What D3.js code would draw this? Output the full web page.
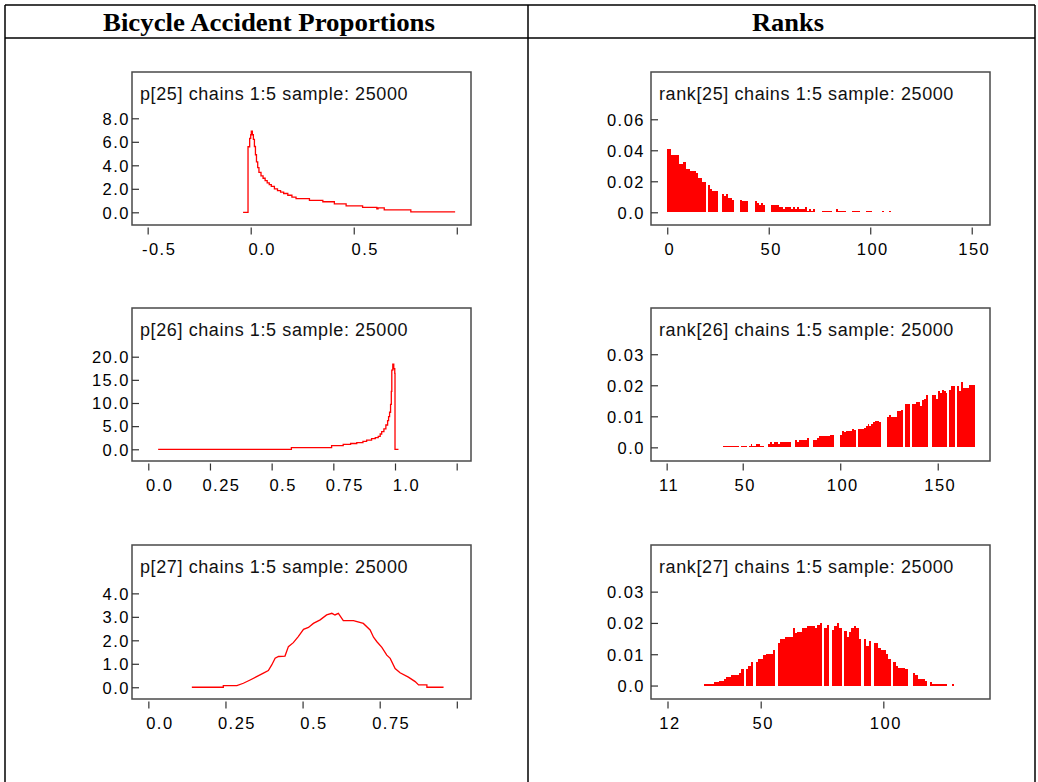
<!DOCTYPE html>
<html>
<head>
<meta charset="utf-8">
<script src="https://cdn.jsdelivr.net/npm/d3@7"></script>
<style>
  body { margin: 0; background: #fff; }
  svg { display: block; }
</style>
</head>
<body>
<div id="chart-container"></div>
<script>
/**************************************************
 * Data
 **************************************************/

const headers = ["Bicycle Accident Proportions", "Ranks"];

// density traces: x = proportion, y = density
const p25X = [-0.037, -0.013, -0.005, 0.0, 0.003, 0.008, 0.013, 0.018, 0.023, 0.028, 0.034, 0.04, 0.05, 0.06, 0.07,
  0.08, 0.09, 0.1, 0.115, 0.13, 0.145, 0.16, 0.18, 0.2, 0.22, 0.285, 0.35, 0.406, 0.463, 0.543, 0.612, 0.618, 0.648, 0.777, 0.992];
const p25Y = [0, 5.58, 6.3, 6.6, 6.9, 6.6, 6.2, 5.6, 4.9, 4.3, 3.8, 3.4, 3.1, 2.9, 2.7,
  2.5, 2.35, 2.2, 2.0, 1.85, 1.72, 1.6, 1.45, 1.3, 1.16, 1.02, 0.9, 0.71, 0.54, 0.42, 0.3, 0.38, 0.2, 0.03, 0.03];

const p26X = [0.04, 0.58, 0.743, 0.79, 0.82, 0.845, 0.87, 0.885, 0.905, 0.92, 0.932, 0.94, 0.946, 0.955, 0.963,
  0.97, 0.974, 0.978, 0.982, 0.985, 0.987, 0.991, 0.995, 0.999, 1.0, 1.014];
const p26Y = [0, 0.35, 0.78, 1.08, 1.25, 1.44, 1.7, 2.0, 2.3, 2.5, 2.8, 3.3, 3.8, 4.4, 5.25,
  6.2, 7.04, 8.0, 9.7, 12.5, 17.1, 18.4, 17.4, 16.4, 0, 0];

const p27X = [0.141, 0.243, 0.243, 0.287, 0.308, 0.33, 0.351, 0.373, 0.389, 0.4, 0.411, 0.422, 0.443, 0.454, 0.47,
  0.486, 0.503, 0.519, 0.535, 0.557, 0.578, 0.595, 0.605, 0.616, 0.632, 0.665, 0.697, 0.719, 0.73, 0.741,
  0.757, 0.773, 0.784, 0.8, 0.816, 0.843, 0.865, 0.876, 0.903, 0.903, 0.957];
const p27Y = [0, 0, 0.07, 0.07, 0.17, 0.31, 0.45, 0.6, 0.71, 0.95, 1.24, 1.31, 1.33, 1.73, 1.9,
  2.16, 2.47, 2.55, 2.72, 2.87, 3.08, 3.15, 3.08, 3.15, 2.84, 2.84, 2.72, 2.44, 2.13, 1.94,
  1.7, 1.37, 1.23, 0.8, 0.62, 0.43, 0.24, 0.1, 0.1, 0, 0];

// rank histograms: one value per rank, starting at the given rank
const rank25Start = 0;
const rank25Values = [
  0.041, 0.041, 0.0372, 0.0372, 0.0372, 0.0372, 0.0314, 0.0314, 0.0327, 0.0282,
  0.0282, 0.0269, 0.0269, 0.0269, 0.0256, 0.0224, 0.0224, 0.0198, 0.0198, 0,
  0.0178, 0.0153, 0.014, 0.014, 0.014, 0, 0, 0.012, 0.0108, 0.012,
  0.0095, 0.0095, 0.0082, 0, 0, 0, 0.0082, 0.0075, 0.0075, 0.0075,
  0, 0, 0, 0.0075, 0.0062, 0.005, 0.0062, 0.005, 0, 0,
  0, 0.005, 0.005, 0.005, 0.005, 0.0037, 0.0037, 0.0024, 0.0037, 0.0037,
  0.0037, 0.0024, 0.0037, 0.0024, 0.0037, 0.0024, 0.0024, 0.0024, 0.0037, 0.001,
  0.0024, 0.001, 0.0024, 0, 0, 0, 0.001, 0.001, 0.001, 0.001,
  0.001, 0, 0, 0.0024, 0.001, 0.001, 0.001, 0.001, 0, 0,
  0, 0.001, 0.001, 0.001, 0.001, 0, 0, 0, 0.001, 0.001,
  0.001, 0, 0, 0, 0, 0, 0.001, 0, 0, 0.001
];

const rank26Start = 40;
const rank26Values = [
  0.0005, 0.0005, 0.0005, 0.0005, 0.0005, 0.0005, 0.0005, 0.0005, 0, 0.0005,       // 40-49
  0.0005, 0.0005, 0, 0.0005, 0.0012, 0.0005, 0.0005, 0.0012, 0.0012, 0.0005,       // 50-59
  0.0005, 0, 0, 0.0012, 0.0018, 0.0012, 0.0018, 0.0018, 0.0012, 0.0018,           // 60-69
  0.0018, 0.0018, 0.0018, 0.0018, 0.0018, 0, 0, 0.0025, 0.0018, 0.0025,            // 70-79
  0.0025, 0.0025, 0.0025, 0.0031, 0, 0, 0.0025, 0.0025, 0.0031, 0.0038,            // 80-89
  0.0038, 0.0038, 0.0038, 0.0038, 0.0038, 0.0041, 0.0041, 0, 0, 0,                 // 90-99
  0.0041, 0.0054, 0.0048, 0.0054, 0.0054, 0.0054, 0.006, 0.0057, 0, 0.006,         // 100-109
  0.006, 0.006, 0.0063, 0.007, 0.0076, 0.007, 0.0076, 0.0083, 0.0086, 0.0086,      // 110-119
  0.0083, 0, 0, 0, 0.0099, 0.0105, 0.0099, 0.0099, 0.0099, 0.0118,                 // 120-129
  0.0118, 0.0121, 0, 0.0141, 0.0141, 0.0141, 0, 0.0141, 0.0141, 0.0147,            // 130-139
  0.0147, 0.0134, 0.0154, 0.0157, 0.017, 0, 0, 0.017, 0.017, 0.0157,               // 140-149
  0.018, 0.0176, 0.0186, 0.018, 0.0176, 0, 0.0186, 0.0199, 0.0199, 0,              // 150-159
  0.0199, 0.018, 0.0209, 0.0192, 0.0192, 0.0192, 0.0202, 0.0202, 0.0202            // 160-168
];

const rank27Start = 27;
const rank27Values = [
  0.0005, 0.0005, 0.0005, 0.0005, 0.0012, 0.0012, 0.0015, 0.0015, 0.0021, 0.0028, // 27-36
  0.0028, 0.0034, 0.0034, 0.0034, 0.004, 0.0053, 0, 0.0053, 0.0063, 0.0076,        // 37-46
  0, 0.0076, 0.0085, 0.0085, 0.0098, 0.0101, 0.0101, 0.0101, 0.0114, 0,            // 47-56
  0.0136, 0.0149, 0.0149, 0.0155, 0.0155, 0.0155, 0.0184, 0.0168, 0.0171, 0.0171,  // 57-66
  0.0184, 0.0184, 0.019, 0.019, 0.019, 0.0184, 0.0194, 0.02, 0, 0.0184,            // 67-76
  0.0194, 0, 0.0178, 0.019, 0.02, 0.0184, 0, 0.0175, 0.0155, 0.0171,               // 77-86
  0.0184, 0.019, 0.0184, 0.0149, 0, 0.0149, 0.0127, 0.0143, 0, 0.0136,             // 87-96
  0.0136, 0.012, 0.0114, 0.0114, 0.0101, 0.0085, 0, 0.0076, 0.0063, 0.0056,        // 97-106
  0.0056, 0.0056, 0.0053, 0, 0, 0.004, 0.0034, 0.0021, 0.0021, 0.0021,             // 107-116
  0.0015, 0, 0.0012, 0.0005, 0.0005, 0.0005, 0.0005, 0.0005, 0.0005, 0,            // 117-126
  0, 0.0005                                                                        // 127-128
];

// axis ticks and their labels
const p25XTicks = [-0.5, 0, 0.5, 1.0];
const p25XLabels = ["-0.5", "0.0", "0.5", ""];
const p25YTicks = [0, 2, 4, 6, 8];
const p25YLabels = ["0.0", "2.0", "4.0", "6.0", "8.0"];

const p26XTicks = [0, 0.25, 0.5, 0.75, 1.0, 1.25];
const p26XLabels = ["0.0", "0.25", "0.5", "0.75", "1.0", ""];
const p26YTicks = [0, 5, 10, 15, 20];
const p26YLabels = ["0.0", "5.0", "10.0", "15.0", "20.0"];

const p27XTicks = [0, 0.25, 0.5, 0.75, 1.0];
const p27XLabels = ["0.0", "0.25", "0.5", "0.75", ""];
const p27YTicks = [0, 1, 2, 3, 4];
const p27YLabels = ["0.0", "1.0", "2.0", "3.0", "4.0"];

const rank25XTicks = [0, 50, 100, 150];
const rank25XLabels = ["0", "50", "100", "150"];
const rank25YTicks = [0, 0.02, 0.04, 0.06];
const rank25YLabels = ["0.0", "0.02", "0.04", "0.06"];

const rank26XTicks = [11, 50, 100, 150];
const rank26XLabels = ["11", "50", "100", "150"];
const rank26YTicks = [0, 0.01, 0.02, 0.03];
const rank26YLabels = ["0.0", "0.01", "0.02", "0.03"];

const rank27XTicks = [12, 50, 100];
const rank27XLabels = ["12", "50", "100"];
const rank27YTicks = [0, 0.01, 0.02, 0.03];
const rank27YLabels = ["0.0", "0.01", "0.02", "0.03"];

/**************************************************
 * Layout
 **************************************************/

const W = 1038, H = 782;
const colX = [[132, 471], [651, 990]];
const rowY = [[72, 225], [308, 461], [545, 699]];

const panels = [
  { col: 0, row: 0, type: "line", title: "p[25] chains 1:5 sample: 25000",
    xs: p25X, ys: p25Y, curve: d3.curveStepAfter, xDomain: [-0.576, 1.069], yDomain: [-1.08, 11.94],
    xTicks: p25XTicks, xLabels: p25XLabels, yTicks: p25YTicks, yLabels: p25YLabels },
  { col: 0, row: 1, type: "line", title: "p[26] chains 1:5 sample: 25000",
    xs: p26X, ys: p26Y, curve: d3.curveStepAfter, xDomain: [-0.066, 1.308], yDomain: [-2.53, 30.52],
    xTicks: p26XTicks, xLabels: p26XLabels, yTicks: p26YTicks, yLabels: p26YLabels },
  { col: 0, row: 2, type: "line", title: "p[27] chains 1:5 sample: 25000",
    xs: p27X, ys: p27Y, curve: d3.curveLinear, xDomain: [-0.053, 1.046], yDomain: [-0.5, 6.06],
    xTicks: p27XTicks, xLabels: p27XLabels, yTicks: p27YTicks, yLabels: p27YLabels },
  { col: 1, row: 0, type: "bars", title: "rank[25] chains 1:5 sample: 25000",
    start: rank25Start, values: rank25Values, xDomain: [-8.0, 159.0], yDomain: [-0.0082, 0.0905],
    xTicks: rank25XTicks, xLabels: rank25XLabels, yTicks: rank25YTicks, yLabels: rank25YLabels },
  { col: 1, row: 1, type: "bars", title: "rank[26] chains 1:5 sample: 25000",
    start: rank26Start, values: rank26Values, xDomain: [2.97, 176.8], yDomain: [-0.0044, 0.0449],
    xTicks: rank26XTicks, xLabels: rank26XLabels, yTicks: rank26YTicks, yLabels: rank26YLabels },
  { col: 1, row: 2, type: "bars", title: "rank[27] chains 1:5 sample: 25000",
    start: rank27Start, values: rank27Values, xDomain: [5.27, 143.5], yDomain: [-0.0043, 0.0449],
    xTicks: rank27XTicks, xLabels: rank27XLabels, yTicks: rank27YTicks, yLabels: rank27YLabels }
];

/**************************************************
 * Rendering
 **************************************************/

const svg = d3.select("#chart-container")
  .append("svg")
  .attr("width", W)
  .attr("height", H);

svg.append("rect").attr("width", W).attr("height", H).attr("fill", "#fff");

// table grid
const grid = svg.append("g").attr("stroke", "#000").attr("stroke-width", 1.5).attr("fill", "none");
grid.append("line").attr("x1", 5).attr("x2", 1035).attr("y1", 5).attr("y2", 5);
grid.append("line").attr("x1", 5).attr("x2", 1035).attr("y1", 38).attr("y2", 38);
grid.append("line").attr("x1", 5).attr("x2", 5).attr("y1", 5).attr("y2", H);
grid.append("line").attr("x1", 528).attr("x2", 528).attr("y1", 5).attr("y2", H);
grid.append("line").attr("x1", 1035).attr("x2", 1035).attr("y1", 5).attr("y2", H);

// column headers
const headerSpan = [[103, 332], [752, 72]];
headers.forEach((h, i) => {
  svg.append("text")
    .attr("x", headerSpan[i][0])
    .attr("y", 31)
    .attr("font-family", "'Liberation Serif', 'Times New Roman', serif")
    .attr("font-weight", "bold")
    .attr("font-size", "25px")
    .attr("textLength", headerSpan[i][1])
    .attr("lengthAdjust", "spacingAndGlyphs")
    .text(h);
});

const sansFont = "'Liberation Sans', Arial, sans-serif";

panels.forEach(p => {
  const [x0, x1] = colX[p.col];
  const [y0, y1] = rowY[p.row];
  const g = svg.append("g");

  const x = d3.scaleLinear().domain(p.xDomain).range([x0, x1]);
  const y = d3.scaleLinear().domain(p.yDomain).range([y1, y0]);

  if (p.type === "line") {
    const pts = p.xs.map((v, i) => [v, p.ys[i]]);
    g.append("path")
      .datum(pts)
      .attr("fill", "none")
      .attr("stroke", "#ff0000")
      .attr("stroke-width", 1.3)
      .attr("d", d3.line().x(d => x(d[0])).y(d => y(d[1])).curve(p.curve));
  } else {
    g.selectAll("rect.bar")
      .data(p.values.map((v, i) => ({ r: p.start + i, v: v })).filter(d => d.v > 0))
      .enter()
      .append("rect")
      .attr("class", "bar")
      .attr("x", d => x(d.r))
      .attr("width", d => x(d.r + 1) - x(d.r))
      .attr("y", d => y(d.v))
      .attr("height", d => y(0) - y(d.v))
      .attr("fill", "#ff0000")
      .attr("shape-rendering", "crispEdges");
  }

  // frame
  g.append("rect")
    .attr("x", x0).attr("y", y0)
    .attr("width", x1 - x0).attr("height", y1 - y0)
    .attr("fill", "none")
    .attr("stroke", "#4a4a4a")
    .attr("stroke-width", 1.5);

  // title
  g.append("text")
    .attr("x", x0 + 8)
    .attr("y", y0 + 27.5)
    .attr("font-family", sansFont)
    .attr("font-size", "18px")
    .attr("letter-spacing", "0.6px")
    .attr("fill", "#111")
    .text(p.title);

  // y axis: ticks drawn inward from the frame
  const yAxis = d3.axisRight(y)
    .tickValues(p.yTicks)
    .tickSize(7)
    .tickFormat((d, i) => p.yLabels[i]);
  const ya = g.append("g")
    .attr("transform", `translate(${x0},0)`)
    .call(yAxis);
  ya.select(".domain").remove();
  ya.selectAll(".tick line").attr("stroke", "#333").attr("stroke-width", 1.2);
  ya.selectAll(".tick text")
    .attr("x", p.col === 0 ? -2 : -6)
    .attr("text-anchor", "end")
    .attr("dy", "0.35em")
    .attr("font-family", sansFont)
    .attr("font-size", "16.5px")
    .attr("letter-spacing", "1.5px")
    .attr("fill", "#000");

  // x axis: short ticks below the frame
  const xAxis = d3.axisBottom(x)
    .tickValues(p.xTicks)
    .tickSize(7)
    .tickFormat((d, i) => p.xLabels[i]);
  const xa = g.append("g")
    .attr("transform", `translate(0,${y1 + 2.5})`)
    .call(xAxis);
  xa.select(".domain").remove();
  xa.selectAll(".tick line").attr("stroke", "#333").attr("stroke-width", 1.2);
  xa.selectAll(".tick text")
    .attr("x", p.col === 0 ? 11 : 2)
    .attr("y", 22)
    .attr("dy", "0.35em")
    .attr("font-family", sansFont)
    .attr("font-size", "16.5px")
    .attr("letter-spacing", "1.5px")
    .attr("fill", "#000");
});
</script>
</body>
</html>
